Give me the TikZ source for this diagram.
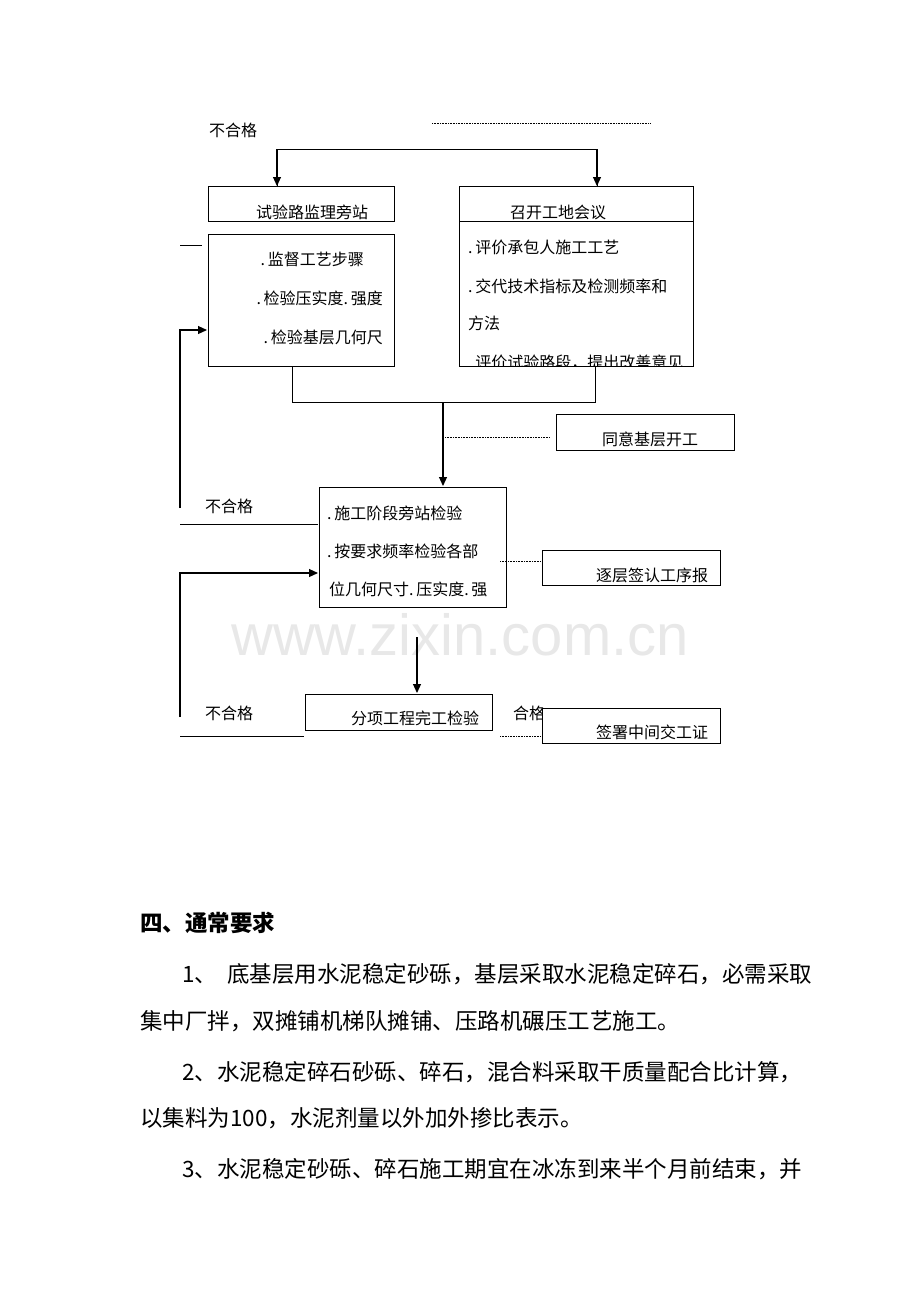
\documentclass[tikz,border=0pt]{standalone}
\usepackage{fontspec}
\setmainfont{Liberation Serif}
\newfontfamily\cjk{Noto Sans CJK SC}
\newfontfamily\wm{Liberation Sans}
\usetikzlibrary{arrows.meta}
\begin{document}
\begin{tikzpicture}[x=1pt,y=-1pt,
  box/.style={draw,line width=1pt},
  ln/.style={line width=1pt},
  arr/.style={line width=1.1pt,-{Triangle[length=9pt,width=8pt]}},
  dot/.style={densely dotted,line width=0.6pt},
  t/.style={font=\cjk\fontsize{16}{18}\selectfont,inner sep=0pt},
  body/.style={font=\cjk\fontsize{22.5}{26}\selectfont,inner sep=0pt,anchor=west}]
\useasboundingbox (0,0) rectangle (920,1302);
\node[font=\wm\fontsize{58}{60}\selectfont,text=black!9] (wm) at (460,635) {www.zixin.com.cn};
% top
\node[t] (ng1) at (233,130) {不合格};
\coordinate (d1a) at (432,123); \coordinate (d1b) at (650,123);
\draw[dot] (d1a) -- (d1b);
\coordinate (tl) at (277,149); \coordinate (tr) at (597,149);
\draw[box] (208,186) rectangle (394,221); \node[t] (A) at (312,212) {试验路监理旁站};
\draw[box] (459,186) rectangle (693,221); \node[t] (B) at (558,212) {召开工地会议};
\draw[box] (459,221) rectangle (693,366);
\begin{scope}
\clip (459,221) rectangle (693,365);
\node[t,anchor=west] (b1) at (468,247) {.\,评价承包人施工工艺};
\node[t,anchor=west] (b2) at (468,286) {.\,交代技术指标及检测频率和};
\node[t,anchor=west] (b3) at (468,323) {方法};
\node[t,anchor=west] (b4) at (468,363) {.\,评价试验路段，提出改善意见};
\end{scope}
\draw[ln] (277,186) -- (tl) -- (tr) -- (597,186);
\draw[arr] (tl) -- (277,186);
\draw[arr] (tr) -- (597,186);
\draw[box] (208,234) rectangle (394,366);
\node[t,anchor=east] (c1) at (364,259) {.\,监督工艺步骤};
\node[t,anchor=east] (c2) at (383,298) {.\,检验压实度.\,强度};
\node[t,anchor=east] (c3) at (383,337) {.\,检验基层几何尺};
\draw[ln] (180,245) -- (202,245);
\draw[arr] (180,508) -- (180,330) -- (207,330);
% merge
\draw[ln] (292,366) -- (292,402) -- (595,402) -- (595,366);
\draw[arr] (443,402) -- (443,486);
\draw[dot] (445,437) -- (550,437);
\draw[box] (556,414) rectangle (734,450); \node[t] (E) at (650,439) {同意基层开工};
% D
\draw[box] (319,487) rectangle (506,607);
\node[t,anchor=west] (d1) at (327,513) {.\,施工阶段旁站检验};
\node[t,anchor=west] (d2) at (327,551) {.\,按要求频率检验各部};
\node[t,anchor=west] (d3) at (329,589) {位几何尺寸.\,压实度.\,强};
\node[t] (ng2) at (229,506) {不合格};
\draw[ln] (180,524) -- (318,524);
\draw[arr] (180,717) -- (180,573) -- (318,573);
\draw[dot] (500,561) -- (541,561);
\draw[box] (542,550) rectangle (720,585); \node[t] (F) at (652,575) {逐层签认工序报};
\draw[arr] (417,637) -- (417,693);
\draw[box] (305,694) rectangle (492,730); \node[t] (G) at (415,718) {分项工程完工检验};
\node[t] (ng3) at (229,713) {不合格};
\draw[ln] (180,736) -- (304,736);
\node[t] (ok) at (529,713) {合格};
\draw[dot] (500,736) -- (541,736);
\draw[box,fill=white] (542,708) rectangle (720,743); \node[t] (H) at (652,732) {签署中间交工证};
% body
\node[body,font=\cjk\bfseries\fontsize{22.5}{26}\selectfont] (h) at (140,923) {四、通常要求};
\node[body] (p1) at (182,974) {1、\ \ 底基层用水泥稳定砂砾，基层采取水泥稳定碎石，必需采取};
\node[body] (p2) at (140,1021) {集中厂拌，双摊铺机梯队摊铺、压路机碾压工艺施工。};
\node[body] (p3) at (182,1072) {2、水泥稳定碎石砂砾、碎石，混合料采取干质量配合比计算，};
\node[body] (p4) at (140,1118) {以集料为100，水泥剂量以外加外掺比表示。};
\node[body] (p5) at (182,1169) {3、水泥稳定砂砾、碎石施工期宜在冰冻到来半个月前结束，并};
\end{tikzpicture}
\end{document}
